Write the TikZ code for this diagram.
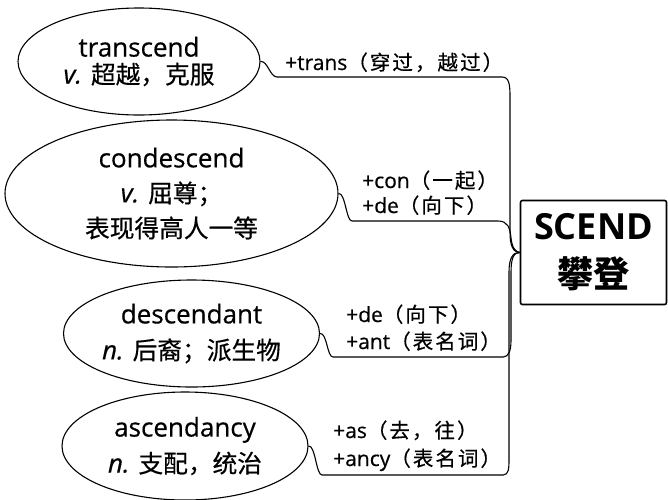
\documentclass[tikz,border=0pt]{standalone}
\usepackage{fontspec}
\setmainfont{Open Sans}[UprightFeatures={FakeBold=0.5}, ItalicFeatures={FakeBold=0.5}]
\newfontfamily\cjk{Noto Sans CJK SC}[Scale=0.95, UprightFeatures={FakeBold=0.5}]
\newfontfamily\cjklab{Noto Sans CJK SC}[LetterSpace=10, FakeBold=0.5]
\newcommand\lc[1]{{\cjklab\fontsize{20.5}{24}\selectfont #1}}
\usetikzlibrary{shapes.geometric}
\tikzset{
  word/.style={ellipse, draw, line width=1.1pt, inner sep=0pt, align=center},
  lab/.style={anchor=base west, inner sep=0pt, font=\fontsize{21}{24}\selectfont},
  link/.style={draw, line width=1.1pt, line join=round},
  rootbox/.style={draw, line width=1.6pt, rounded corners=2pt, minimum width=146pt,
    minimum height=104pt, inner sep=0pt, align=center, font=\bfseries\fontsize{36}{48}\selectfont}
}
\begin{document}
\begin{tikzpicture}[x=1pt,y=-1pt]
\useasboundingbox (0,0) rectangle (668,499);

% word ellipses
\node[word, minimum width=242pt, minimum height=107pt, font=\fontsize{26}{27}\selectfont]
  (e1) at (139,61.5) {transcend\\{\itshape v.} {\cjk 超越，克服}};
\node[word, minimum width=333pt, minimum height=147pt, font=\fontsize{26}{35}\selectfont]
  (e2) at (171.5,193.5) {condescend\\{\itshape v.} {\cjk 屈尊；}\\{\cjk 表现得高人一等}};
\node[word, minimum width=256pt, minimum height=107pt, font=\fontsize{26}{36}\selectfont]
  (e3) at (191.5,333.5) {descendant\\{\itshape n.} {\cjk 后裔；派生物}};
\node[word, minimum width=246pt, minimum height=108pt, font=\fontsize{26}{36}\selectfont]
  (e4) at (185,446) {ascendancy\\{\itshape n.} {\cjk 支配，统治}};

% root box
\node[rootbox] (box) at (593.5,252.5) {SCEND\\{\cjk\fontsize{38}{48}\selectfont 攀登}};

% labels
\node[lab] (l1)  at (285,70)  {+trans\lc{（穿过，越过）}};
\node[lab] (l2a) at (362,188) {+con\lc{（一起）}};
\node[lab] (l2b) at (362,213) {+de\lc{（向下）}};
\node[lab] (l3a) at (346,322) {+de\lc{（向下）}};
\node[lab] (l3b) at (346,349) {+ant\lc{（表名词）}};
\node[lab] (l4a) at (333,438) {+as\lc{（去，往）}};
\node[lab] (l4b) at (333,466) {+ancy\lc{（表名词）}};

% connectors
\draw[link] (e1.east) .. controls +(7,-1) and +(-7,0) .. (277,77) -- (502,77)
  .. controls (509,77) and (510,84) .. (510,97) -- (510,232)
  .. controls (510,246) and (513,252) .. (box.west);
\draw[link] (e2.east) .. controls +(7,-1) and +(-6,0) .. (352,221) -- (498,221)
  .. controls (508,221) and (510,228) .. (511,238)
  .. controls (512,247) and (515,252) .. (box.west);
\draw[link] (e3.east) .. controls +(7,-1) and +(-6,0) .. (333,357) -- (503,357)
  .. controls (509,357) and (511,350) .. (511,340) -- (511,272)
  .. controls (511,258) and (514,252) .. (box.west);
\draw[link] (e4.east) .. controls +(7,-1) and +(-6,0) .. (322,475) -- (503,475)
  .. controls (509,475) and (509,468) .. (509,458) -- (509,272)
  .. controls (509,258) and (513,252) .. (box.west);
\end{tikzpicture}
\end{document}
